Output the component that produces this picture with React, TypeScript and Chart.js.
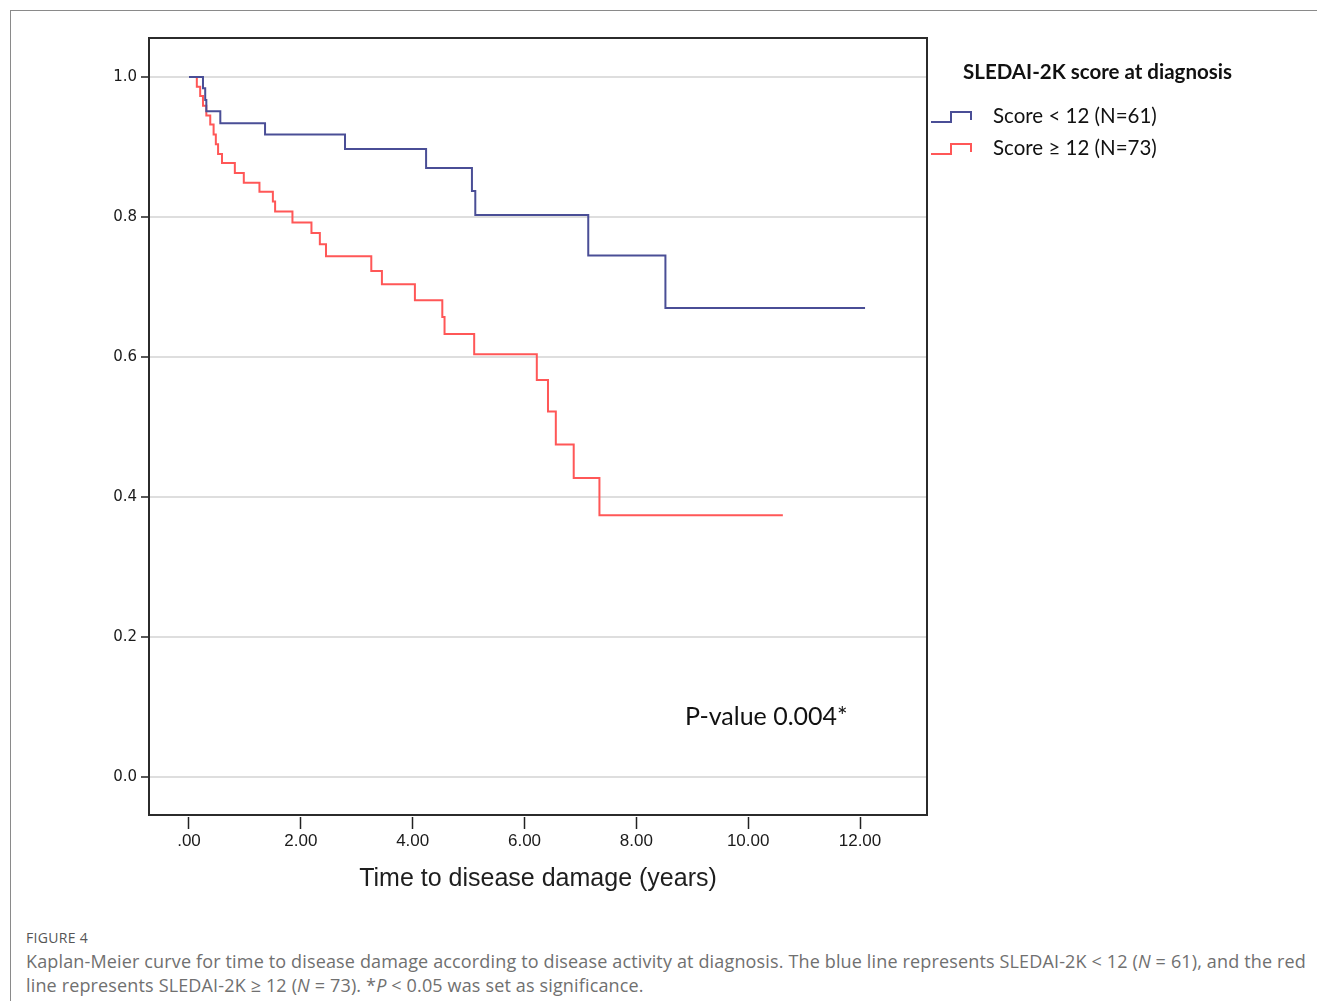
import React, { useEffect, useRef } from 'react';
import { Chart, registerables } from 'chart.js';

Chart.register(...registerables);

// Kaplan-Meier steps (time in years, survival after the drop)
const blueTimes = [0, 0.25, 0.29, 0.31, 0.56, 1.36, 2.79, 4.24, 5.06, 5.12, 7.14, 8.52, 12.09];
const blueSurv = [1.0, 0.984, 0.967, 0.951, 0.934, 0.918, 0.897, 0.87, 0.837, 0.803, 0.745, 0.67, 0.67];

const redTimes = [
  0, 0.14, 0.2, 0.25, 0.31, 0.38, 0.44, 0.48, 0.52, 0.59, 0.82, 0.98, 1.26, 1.5, 1.54, 1.85,
  2.19, 2.34, 2.45, 3.26, 3.45, 4.04, 4.53, 4.57, 5.1, 6.22, 6.42, 6.56, 6.88, 7.34, 10.62,
];
const redSurv = [
  1.0, 0.986, 0.973, 0.959, 0.945, 0.932, 0.918, 0.904, 0.89, 0.877, 0.863, 0.849, 0.836, 0.822,
  0.808, 0.792, 0.777, 0.761, 0.744, 0.723, 0.704, 0.681, 0.657, 0.633, 0.604, 0.567, 0.522,
  0.475, 0.427, 0.374, 0.374,
];

const xTickValues = [0, 2, 4, 6, 8, 10, 12];
const xTickLabels = ['.00', '2.00', '4.00', '6.00', '8.00', '10.00', '12.00'];
const yTickValues = [0, 0.2, 0.4, 0.6, 0.8, 1.0];
const yTickLabels = ['0.0', '0.2', '0.4', '0.6', '0.8', '1.0'];

const seriesLabels = ['Score < 12 (N=61)', 'Score \u2265 12 (N=73)'];
const legendTitle = 'SLEDAI-2K score at diagnosis';
const xAxisTitle = 'Time to disease damage (years)';
const pValueText = 'P-value 0.004*';
const pValuePos = { x: 8.87, y: 0.0857 };

const BLUE = '#4a4e96';
const RED = '#ff5757';

const extrasPlugin = {
  id: 'kmExtras',
  afterDraw(chart: any) {
    const { ctx, chartArea, scales } = chart;
    const { left, right, top, bottom } = chartArea;
    ctx.save();
    // frame
    ctx.strokeStyle = '#2b2b2b';
    ctx.lineWidth = 2;
    ctx.strokeRect(left, top, right - left, bottom - 2 - top);

    // axis title
    ctx.fillStyle = '#1e1e1e';
    ctx.font = '25px "Liberation Sans"';
    ctx.textAlign = 'center';
    ctx.textBaseline = 'middle';
    ctx.fillText(xAxisTitle, (left + right) / 2, bottom + 62);

    // p-value
    ctx.font = '25px Lato';
    ctx.textAlign = 'left';
    ctx.fillStyle = '#111';
    ctx.fillText(pValueText, scales.x.getPixelForValue(pValuePos.x), scales.y.getPixelForValue(pValuePos.y));

    // legend
    const lx = right + 36;
    ctx.font = 'bold 20.5px Lato';
    ctx.fillText(legendTitle, lx, top + 34);
    ctx.font = '20.5px Lato';
    const colors = [BLUE, RED];
    const rowY = [top + 78, top + 110];
    for (let i = 0; i < 2; i++) {
      const cy = rowY[i];
      ctx.strokeStyle = colors[i];
      ctx.lineWidth = 2;
      ctx.beginPath();
      ctx.moveTo(right + 4, cy + 6);
      ctx.lineTo(right + 24, cy + 6);
      ctx.lineTo(right + 24, cy - 4);
      ctx.lineTo(right + 44, cy - 4);
      ctx.lineTo(right + 44, cy + 4);
      ctx.stroke();
      ctx.fillStyle = '#111';
      ctx.fillText(seriesLabels[i], right + 66, cy);
    }
    ctx.restore();
  },
};

function toPoints(t: number[], s: number[]) {
  return t.map((x, i) => ({ x, y: s[i] }));
}

export default function App() {
  const ref = useRef<HTMLCanvasElement | null>(null);

  useEffect(() => {
    document.body.style.margin = '0';
    const canvas = ref.current;
    if (!canvas) return;
    const chart = new Chart(canvas, {
      type: 'line',
      data: {
        datasets: [
          {
            label: seriesLabels[0],
            data: toPoints(blueTimes, blueSurv),
            borderColor: BLUE,
            borderWidth: 2,
            pointRadius: 0,
            stepped: 'before',
            fill: false,
          },
          {
            label: seriesLabels[1],
            data: toPoints(redTimes, redSurv),
            borderColor: RED,
            borderWidth: 2,
            pointRadius: 0,
            stepped: 'before',
            fill: false,
          },
        ],
      },
      options: {
        responsive: false,
        animation: false,
        events: [],
        layout: { padding: { left: 0, right: 390, top: 38, bottom: 0 } },
        plugins: { legend: { display: false }, title: { display: false }, tooltip: { enabled: false } },
        scales: {
          x: {
            type: 'linear',
            min: -0.7153,
            max: 13.198,
            afterBuildTicks: (scale: any) => {
              scale.ticks = xTickValues.map((v) => ({ value: v }));
            },
            afterFit: (scale: any) => {
              scale.height = 93;
            },
            ticks: {
              callback: (v: any) => {
                const i = xTickValues.indexOf(Number(v));
                return i >= 0 ? xTickLabels[i] : '';
              },
              font: { family: '"Liberation Sans"', size: 17 },
              color: '#1a1a1a',
              padding: 2,
              maxRotation: 0,
              autoSkip: false,
            },
            grid: {
              drawOnChartArea: false,
              drawTicks: true,
              tickLength: 12,
              tickColor: '#222',
              tickWidth: 1.5,
            },
            border: { display: false },
          },
          y: {
            type: 'linear',
            min: -0.05714,
            max: 1.05571,
            afterBuildTicks: (scale: any) => {
              scale.ticks = yTickValues.map((v) => ({ value: v }));
            },
            afterFit: (scale: any) => {
              scale.width = 149;
            },
            ticks: {
              callback: (v: any) => {
                const i = yTickValues.findIndex((t) => Math.abs(t - Number(v)) < 1e-6);
                return i >= 0 ? yTickLabels[i] : '';
              },
              font: { family: '"DejaVu Sans"', size: 15 },
              color: '#1a1a1a',
              padding: 4,
              autoSkip: false,
            },
            grid: {
              color: '#dedede',
              lineWidth: 2,
              tickColor: '#222',
              tickLength: 8,
              tickWidth: 1.5,
            },
            border: { display: false },
          },
        },
      },
      plugins: [extrasPlugin],
    } as any);
    return () => chart.destroy();
  }, []);

  return (
    <div style={{ position: 'relative', width: 1317, height: 1001, overflow: 'hidden', background: '#fff' }}>
      <div
        style={{
          position: 'absolute',
          left: 10,
          top: 10,
          width: 1400,
          height: 1100,
          borderTop: '1px solid #8a8a8a',
          borderLeft: '1px solid #8a8a8a',
        }}
      />
      <canvas ref={ref} width={1317} height={910} style={{ position: 'absolute', left: 0, top: 0 }} />
      <div
        style={{
          position: 'absolute',
          left: 26,
          top: 928,
          fontFamily: '"Open Sans", sans-serif',
          fontSize: 14,
          letterSpacing: '0.3px',
          color: '#555',
          lineHeight: '20px',
        }}
      >
        FIGURE 4
      </div>
      <div
        style={{
          position: 'absolute',
          left: 26,
          top: 949,
          fontFamily: '"Open Sans", sans-serif',
          fontSize: 18,
          letterSpacing: '0.15px',
          color: '#707070',
          lineHeight: '24px',
          whiteSpace: 'nowrap',
        }}
      >
        Kaplan-Meier curve for time to disease damage according to disease activity at diagnosis. The blue line represents SLEDAI-2K &lt; 12 (<i>N</i> = 61), and the red
        <br />
        line represents SLEDAI-2K &ge; 12 (<i>N</i> = 73). *<i>P</i> &lt; 0.05 was set as significance.
      </div>
    </div>
  );
}
